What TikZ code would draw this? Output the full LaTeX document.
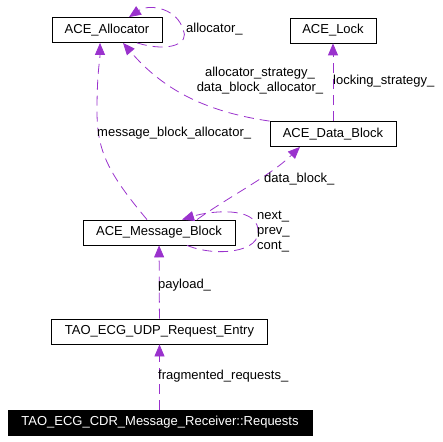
\documentclass[tikz,border=0pt]{standalone}
\usepackage{fontspec}
\setmainfont{Liberation Sans}
\usetikzlibrary{arrows.meta}
\definecolor{orchid}{RGB}{154,50,205}
\newcommand{\lbl}{\fontsize{13}{15}\selectfont}

\begin{document}
\begin{tikzpicture}[x=1pt,y=1pt,
    cls/.style={draw=black,line width=0.8pt,minimum height=25pt,inner xsep=4pt,font=\lbl},
    use/.style={draw=orchid,line width=0.8pt,dash pattern=on 10pt off 6pt,-{Triangle[length=12pt,width=10pt,color=orchid,fill=orchid]}},
    tag/.style={font=\lbl,inner sep=1pt,align=left}]
    \useasboundingbox (0,0) rectangle (443,441);
    \node[cls,minimum width=110pt] (alloc) at (107,411) {ACE\_Allocator};
    \node[cls,minimum width=86pt] (lock) at (333,410.5) {ACE\_Lock};
    \node[cls,minimum width=126pt] (datablock) at (333,307) {ACE\_Data\_Block};
    \node[cls,minimum width=152pt] (msgblock) at (159,208.5) {ACE\_Message\_Block};
    \node[cls,minimum width=216pt] (entry) at (159.5,109.5) {TAO\_ECG\_UDP\_Request\_Entry};
    \node[cls,minimum width=304pt,fill=black,text=white] (requests) at (160,18.5) {TAO\_ECG\_CDR\_Message\_Receiver::Requests};
    \draw[use] ([xshift=30pt]alloc.south) .. controls (170,388) and (190,398) .. (183,411) .. controls (178,432) and (150,438) .. ([xshift=22pt]alloc.north);
    \node[tag,anchor=west] (allocself) at (185,412) {allocator\_};
    \draw[use] ([xshift=-12pt]msgblock.north) .. controls (108,268) and (97,290) .. (97,330) .. controls (97,370) and (100,380) .. ([xshift=-7pt]alloc.south);
    \node[tag,anchor=west] (mballoc) at (96,308) {message\_block\_allocator\_};
    \draw[use] (datablock.north west) .. controls (200,330) and (160,355) .. ([xshift=16pt]alloc.south);
    \node[tag,align=center] (dballoc) at (260,360) {allocator\_strategy\_\\data\_block\_allocator\_};
    \draw[use] (datablock) -- (lock);
    \node[tag,anchor=west] (locking) at (332,360) {locking\_strategy\_};
    \draw[use] ([xshift=38pt]msgblock.north) .. controls (230,245) and (270,265) .. ([xshift=-33pt]datablock.south);
    \node[tag,anchor=west] (dblock) at (263,262) {data\_block\_};
    \draw[use] ([xshift=28pt]msgblock.south) .. controls (215,184) and (262,188) .. (258,212) .. controls (255,235) and (210,230) .. ([xshift=23pt]msgblock.north);
    \node[tag,anchor=west] (links) at (256,209) {next\_\\prev\_\\cont\_};
    \draw[use] (entry) -- (msgblock);
    \node[tag,anchor=west] (payload) at (157,156) {payload\_};
    \draw[use] (requests.north -| entry.south) -- (entry);
    \node[tag,anchor=west] (frag) at (157,65) {fragmented\_requests\_};
\end{tikzpicture}
\end{document}
